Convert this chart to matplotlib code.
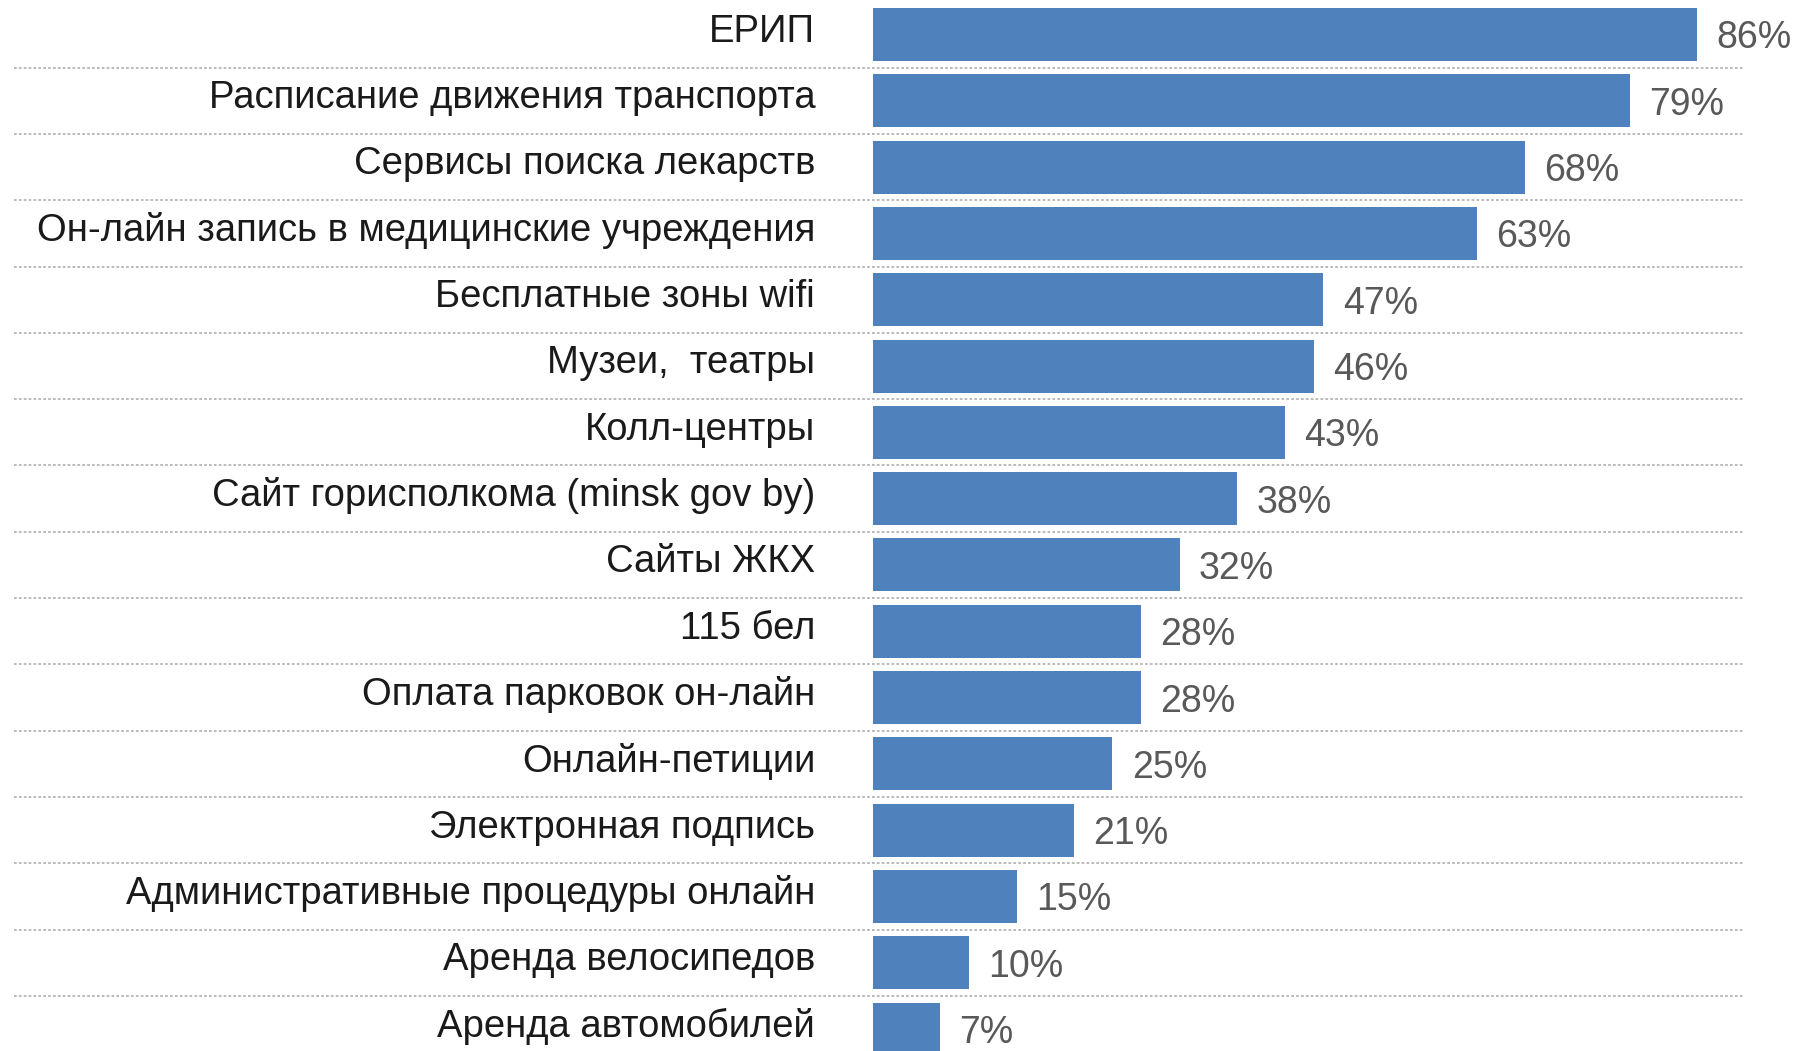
import matplotlib
matplotlib.use("Agg")
import matplotlib.pyplot as plt

# survey data, top to bottom
services = [
    "ЕРИП",
    "Расписание движения транспорта",
    "Сервисы поиска лекарств",
    "Он-лайн запись в медицинские учреждения",
    "Бесплатные зоны wifi",
    "Музеи,  театры",
    "Колл-центры",
    "Сайт горисполкома (minsk gov by)",
    "Сайты ЖКХ",
    "115 бел",
    "Оплата парковок он-лайн",
    "Онлайн-петиции",
    "Электронная подпись",
    "Административные процедуры онлайн",
    "Аренда велосипедов",
    "Аренда автомобилей",
]
shares = [86, 79, 68, 63, 47, 46, 43, 38, 32, 28, 28, 25, 21, 15, 10, 7]

plt.rcParams['font.family'] = ['Liberation Sans', 'DejaVu Sans']

fig = plt.figure(figsize=(18.02, 10.51), dpi=100)
ax = fig.add_axes([0, 0, 1, 1])

ypos = list(range(len(services)))
ax.barh(ypos, shares, height=0.8, color='#4F81BD', zorder=2)

# dotted separators between rows, running under the labels too
for i in range(len(services) - 1):
    ax.plot([-89.5, 90.8], [i + 0.5, i + 0.5], color='#b5b5b5', lw=1.3,
            linestyle=(0, (1.5, 1.2)), zorder=1)

for y, name, v in zip(ypos, services, shares):
    ax.text(-6.0, y - 0.04, name, ha='right', va='center', fontsize=27.5, color='#1a1a1a')
    ax.text(v + 2.0, y + 0.06, f"{v}%", ha='left', va='center', fontsize=27, color='#595959')

ax.set_xlim(-91.0, 96.9)
ax.set_ylim(15.33, -0.52)
ax.axis('off')

fig.savefig("out.png", dpi=100, facecolor='white')
